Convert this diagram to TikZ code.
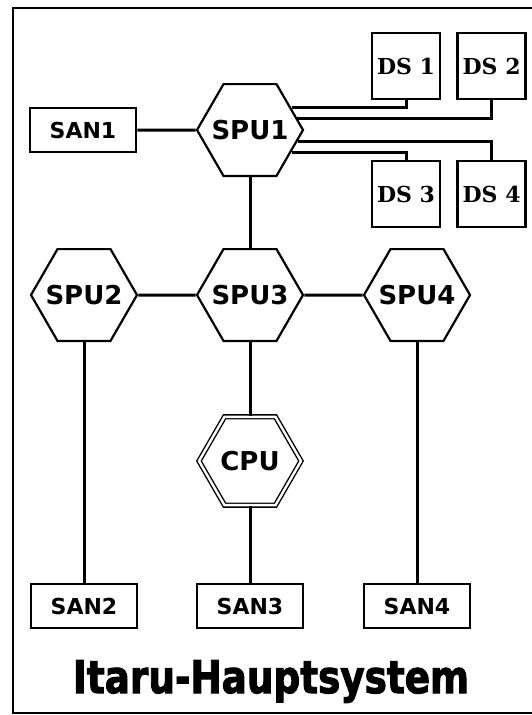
\documentclass[tikz,border=0pt]{standalone}
\usepackage{fontspec}
\setsansfont{DejaVu Sans}
\setmainfont{DejaVu Serif}
\newfontfamily\titelfont{DejaVu Sans}[BoldFeatures={FakeBold=2.5}]
\usetikzlibrary{shapes.geometric, positioning}

\begin{document}
\begin{tikzpicture}[
  x=1pt, y=-1pt,
  node distance=15pt,
  spu/.style={regular polygon, regular polygon sides=6, draw, line width=2.2pt, minimum size=106pt, inner sep=0pt, font=\sffamily\bfseries\fontsize{26}{26}\selectfont},
  cpu/.style={spu, double, double distance=2.4pt, line width=1.4pt, minimum size=102pt},
  san/.style={rectangle, draw, line width=2.6pt, minimum width=106pt, minimum height=44pt, font=\sffamily\bfseries\fontsize{22}{22}\selectfont},
  ds/.style={rectangle, draw, line width=2.6pt, minimum width=68pt, minimum height=66pt, inner sep=0pt, font=\rmfamily\bfseries\fontsize{22}{22}\selectfont},
  link/.style={line width=3pt}
]
\useasboundingbox (0,0) rectangle (532,715);

% Frame
\draw[line width=2.6pt] (540,8) -- (13,8) -- (13,713) -- (540,713);

% Nodes
\node[spu] (spu1) at (250,130) {\makebox[0pt]{SPU1}};
\node[san] (san1) at (83,130) {SAN1};
\node[ds] (ds1) at (406,66) {DS 1};
\node[ds, right=of ds1] (ds2) {DS 2};
\node[ds] (ds3) at (406,194) {DS 3};
\node[ds, right=of ds3] (ds4) {DS 4};

\node[spu] (spu3) at (250,295) {\makebox[0pt]{SPU3}};
\node[spu] (spu2) at (84,295) {\makebox[0pt]{SPU2}};
\node[spu] (spu4) at (417,295) {\makebox[0pt]{SPU4}};
\node[cpu] (cpu) at (250,461) {\makebox[0pt]{CPU}};

\node[san] (san2) at (84,606) {SAN2};
\node[san] (san3) at (250,606) {SAN3};
\node[san] (san4) at (417,606) {SAN4};

% Lines
\draw[link] (san1) -- (spu1);
\draw[link] (spu1.28) -| (ds1.south);
\draw[link] (spu1.14) -| (ds2.south);
\draw[link] (spu1.-13) -| (ds4.north);
\draw[link] (spu1.-28) -| (ds3.north);
\draw[link] (spu1) -- (spu3);
\draw[link] (spu2) -- (spu3);
\draw[link] (spu3) -- (spu4);
\draw[link] (spu3) -- (cpu);
\draw[link] (cpu) -- (san3);
\draw[link] (spu2) -- (san2);
\draw[link] (spu4) -- (san4);

% Title
\node[anchor=base, font=\titelfont\bfseries\fontsize{45}{45}\selectfont] (titel) at (271,693) {\scalebox{0.83}[1]{Itaru-Hauptsystem}};

\end{tikzpicture}
\end{document}
